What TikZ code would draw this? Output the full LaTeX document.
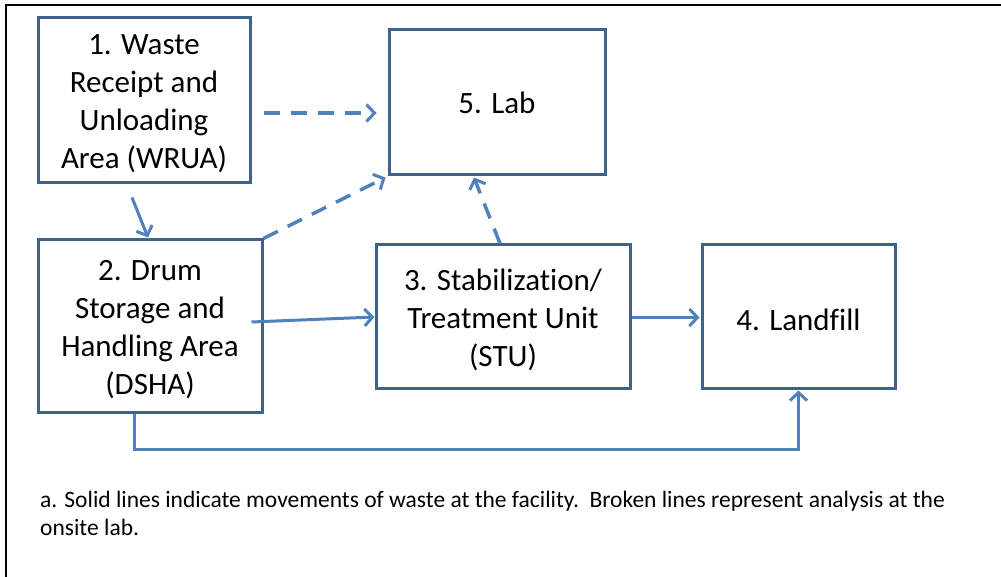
\documentclass[tikz,border=0pt]{standalone}
\usepackage{fontspec}
\setmainfont{Carlito}[Ligatures={NoCommon}]
\usetikzlibrary{arrows.meta,calc}
\definecolor{boxline}{HTML}{3F6190}
\definecolor{flow}{HTML}{4F81BD}
\begin{document}
\begin{tikzpicture}[x=1pt,y=-1pt,
  stage/.style={draw=boxline, line width=3pt, inner sep=0pt},
  stagetext/.style={align=center, inner sep=0pt, yshift=-3.5pt,
    font=\fontsize{31}{38}\selectfont},
  move/.style={draw=flow, line width=3pt,
    -{Straight Barb[length=8pt,width=17pt,line width=3pt]}},
  probe/.style={move, line width=3.5pt, dash pattern=on 16pt off 11pt},
  note/.style={anchor=north west, align=left, inner sep=0pt,
    font=\fontsize{23.5}{28}\selectfont}]
\useasboundingbox (0,0) rectangle (1001,577);
\fill[white] (0,0) rectangle (1001,577);
% outer frame (top and left edges)
\draw[line width=2pt] (6,577) -- (6,5) -- (1001,5);

% process stages
\node[stage, minimum width=212pt, minimum height=165pt,
  label={[stagetext]center:1. Waste\\Receipt and\\Unloading\\Area (WRUA)}]
  (wrua) at (144,100.5) {};
\node[stage, minimum width=216pt, minimum height=145pt,
  label={[stagetext, yshift=3pt]center:5. Lab}]
  (lab) at (497,102.5) {};
\node[stage, minimum width=224pt, minimum height=172pt,
  label={[stagetext]center:2. Drum\\Storage and\\Handling Area\\(DSHA)}]
  (dsha) at (150,326) {};
\node[stage, minimum width=254pt, minimum height=143pt,
  label={[stagetext]center:3. Stabilization/\\Treatment Unit\\(STU)}]
  (stu) at (503,316.5) {};
\node[stage, minimum width=193pt, minimum height=143pt,
  label={[stagetext]center:4. Landfill}]
  (fill) at (798.5,316.5) {};

% movements of waste
\draw[move] ($(wrua.south)+(-12,13)$) -- ($(dsha.north)+(-2,-1)$);
\draw[move] ($(dsha.east)+(-12,-4)$) -- ($(stu.west)+(0,0.5)$);
\draw[move] ($(stu.east)+(0,1)$) -- ($(fill.west)+(-1,1)$);
\draw[move] ($(dsha.south)+(-16,0)$) -- ++(0,36) -| ($(fill.south)+(0,1)$);

% samples sent to the lab
\draw[probe] ($(wrua.east)+(12,12.5)$) -- ($(lab.west)+(-11,10.5)$);
\draw[probe] (dsha.north east) -- ($(lab.south west)+(-2,1)$);
\draw[probe] ($(stu.north)+(-3,0)$) -- ($(lab.south)+(-23,1)$);

% footnote
\node[note] (fn) at (40,490.5)
  {a. Solid lines indicate movements of waste at the facility.\ \ Broken lines represent analysis at the\\onsite lab.};
\end{tikzpicture}
\end{document}
